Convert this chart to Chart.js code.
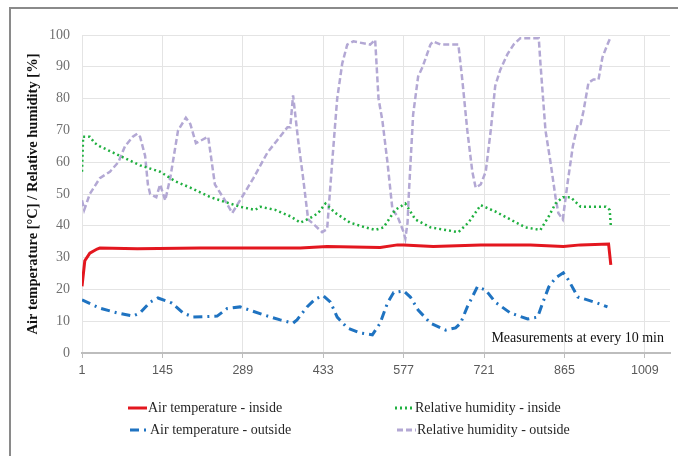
<!DOCTYPE html>
<html lang="en">
<head>
<meta charset="UTF-8">
<title>Air temperature and relative humidity</title>
<style>
    body {
        margin: 0;
        background: #ffffff;
    }
    .frame {
        position: absolute;
        left: 9px;
        top: 7px;
        width: 669px;
        height: 449px;
        border-top: 2px solid #8a8a8a;
        border-left: 2px solid #8a8a8a;
    }
    #chart-wrap {
        position: absolute;
        left: 0;
        top: 0;
        width: 678px;
        height: 456px;
    }
</style>
</head>
<body>
<div class="frame"></div>
<div id="chart-wrap"><canvas id="chart" width="678" height="456"></canvas></div>

<script src="https://cdn.jsdelivr.net/npm/chart.js"></script>
<script>
// x tick labels (measurement number, every 144 = one day)
const xTicks = [1, 145, 289, 433, 577, 721, 865, 1009];

// Air temperature - inside
const tInX = [1, 6, 15, 28, 33, 100, 213, 392, 440, 535, 566, 577, 630, 715, 804, 863, 894, 944, 948];
const tInY = [21, 29, 31.4, 32.7, 33, 32.8, 33, 33, 33.5, 33.2, 34, 34, 33.5, 34, 34, 33.5, 34, 34.3, 27.7];

// Air temperature - outside
const tOutX = [1, 33, 64, 92, 105, 123, 137, 162, 182, 200, 243, 261, 284, 326, 356, 379, 386, 404, 419, 433, 446,
    458, 476, 499, 521, 535, 548, 559, 577, 589, 603, 625, 652, 670, 679, 691, 709, 724, 741, 768, 799, 817,
    828, 837, 849, 863, 872, 889, 906, 924, 942];
const tOutY = [16.7, 14.1, 12.6, 11.6, 12.6, 16, 17.3, 15.7, 12.6, 11.3, 11.6, 14, 14.5, 12, 10.4, 9.4, 10.4, 14.5, 17, 18, 16,
    11.3, 7.9, 6.3, 5.7, 9.4, 15.7, 19, 19.5, 17.6, 13.5, 9.4, 7.2, 7.9, 9.4, 14.5, 20.8, 19.8, 16, 12.6, 10.7, 11.3,
    16.7, 20.8, 23.6, 25.2, 23, 17.6, 16.7, 15.7, 14.5];

// Relative humidity - inside
const rhInX = [1, 3, 15, 24, 33, 69, 105, 141, 150, 168, 195, 231, 257, 284, 311, 320, 347, 374, 392, 410, 424, 437,
    455, 481, 508, 526, 541, 562, 580, 598, 625, 652, 675, 693, 715, 741, 768, 795, 822, 837, 849, 862, 876,
    894, 912, 939, 946, 948];
const rhInY = [57, 68, 68, 66, 65, 62, 59, 57, 56, 54, 52, 49, 47.5, 46, 45, 46, 45, 43, 41, 42.5, 44, 47,
    44, 41, 39.5, 38.7, 39.5, 45, 47, 42, 39.5, 38.7, 38, 41, 46.5, 44.5, 42, 39.5, 38.7, 43, 47, 49, 49,
    46, 46, 46, 45, 40];

// Relative humidity - outside
const rhOutX = [1, 5, 15, 33, 51, 66, 78, 92, 100, 105, 114, 119, 123, 134, 141, 150, 159, 173, 187, 195, 205, 227,
    239, 257, 270, 284, 308, 333, 351, 369, 374, 379, 388, 397, 406, 419, 431, 440, 449, 458, 467, 476, 487,
    517, 526, 532, 539, 548, 557, 566, 577, 580, 584, 586, 594, 603, 611, 625, 630, 643, 675, 682, 691, 700,
    706, 715, 724, 733, 741, 750, 763, 774, 786, 804, 819, 822, 831, 840, 849, 854, 862, 871, 880, 889, 894,
    899, 908, 917, 926, 933, 942, 948];
const rhOutY = [48, 45, 50, 55, 57, 60, 65, 68, 69, 68, 62, 53, 50, 49, 53, 48, 55, 70, 74, 72, 66, 68,
    53, 48, 44, 48, 55, 63, 67, 71, 71, 81, 67, 55, 42, 40, 38, 39, 60, 80, 91, 97, 98,
    97, 98.5, 80, 73, 60, 45, 43, 38, 36, 41, 49, 75, 87, 90, 97, 98, 97, 97, 86, 70, 57,
    52, 53, 57, 70, 84, 89, 94, 97, 99, 99, 99, 91, 70, 60, 49, 44, 42, 54, 65, 72, 72,
    76, 85, 86, 86, 93, 97, 99.5];

const pts = (xs, ys) => xs.map((x, i) => ({ x: x, y: ys[i] }));

const legendItems = [
    { label: "Air temperature - inside", color: "#e3171f", dash: [], x: 128, y: 408 },
    { label: "Air temperature - outside", color: "#1f73c1", dash: [9, 5, 2, 5], x: 130, y: 430 },
    { label: "Relative humidity - inside", color: "#20b040", dash: [2, 3], x: 395, y: 408 },
    { label: "Relative humidity - outside", color: "#b3a8d4", dash: [6, 3], x: 397, y: 430 }
];

// legend + note text drawn onto the canvas
const extras = {
    id: "extras",
    afterDraw(chart) {
        const ctx = chart.ctx;
        ctx.save();
        ctx.font = "14px 'Liberation Serif'";
        ctx.textBaseline = "middle";
        legendItems.forEach(it => {
            ctx.strokeStyle = it.color;
            ctx.lineWidth = 3;
            ctx.setLineDash(it.dash);
            ctx.beginPath();
            ctx.moveTo(it.x, it.y);
            ctx.lineTo(it.x + 19, it.y);
            ctx.stroke();
            ctx.setLineDash([]);
            ctx.fillStyle = "#262626";
            ctx.textAlign = "left";
            ctx.fillText(it.label, it.x + 20, it.y);
        });
        ctx.fillStyle = "#111111";
        ctx.textAlign = "right";
        ctx.fillText("Measurements at every 10 min", 664, 338);
        ctx.restore();
    }
};

new Chart(document.getElementById("chart"), {
    type: "line",
    data: {
        datasets: [
            {
                label: "Air temperature - inside",
                data: pts(tInX, tInY),
                borderColor: "#e3171f",
                borderWidth: 3
            },
            {
                label: "Air temperature - outside",
                data: pts(tOutX, tOutY),
                borderColor: "#1f73c1",
                borderWidth: 3,
                borderDash: [9, 5, 2, 5]
            },
            {
                label: "Relative humidity - inside",
                data: pts(rhInX, rhInY),
                borderColor: "#20b040",
                borderWidth: 2.5,
                borderDash: [2, 3]
            },
            {
                label: "Relative humidity - outside",
                data: pts(rhOutX, rhOutY),
                borderColor: "#b3a8d4",
                borderWidth: 2.5,
                borderDash: [6, 3]
            }
        ]
    },
    options: {
        responsive: false,
        animation: false,
        events: [],
        elements: {
            point: { radius: 0 },
            line: { tension: 0 }
        },
        layout: {
            padding: { left: 10, top: 35, right: 8, bottom: 63 }
        },
        plugins: {
            legend: { display: false },
            tooltip: { enabled: false }
        },
        scales: {
            x: {
                type: "linear",
                min: 1,
                max: 1054,
                afterBuildTicks: (s) => { s.ticks = xTicks.map(v => ({ value: v })); },
                afterFit: (s) => { s.height = 40; },
                grid: {
                    color: "#e4e4e4",
                    tickLength: 5,
                    tickColor: "#bdbdbd"
                },
                border: { color: "#bdbdbd", width: 2 },
                ticks: {
                    color: "#5a5a5a",
                    font: { family: "'Liberation Sans'", size: 12.5 },
                    padding: 5,
                    maxRotation: 0,
                    callback: (v) => String(v)
                }
            },
            y: {
                min: 0,
                max: 100,
                afterFit: (s) => { s.width = 72; },
                grid: {
                    color: "#e4e4e4",
                    drawTicks: false
                },
                border: { display: false },
                ticks: {
                    stepSize: 10,
                    color: "#707070",
                    font: { family: "'Liberation Serif'", size: 14 },
                    padding: 12
                },
                title: {
                    display: true,
                    text: "Air temperature [°C] / Relative humidity [%]",
                    color: "#111111",
                    font: { family: "'Liberation Serif'", size: 14.5, weight: "bold" },
                    padding: { top: 15, bottom: 0 }
                }
            }
        }
    },
    plugins: [extras]
});
</script>
</body>
</html>
